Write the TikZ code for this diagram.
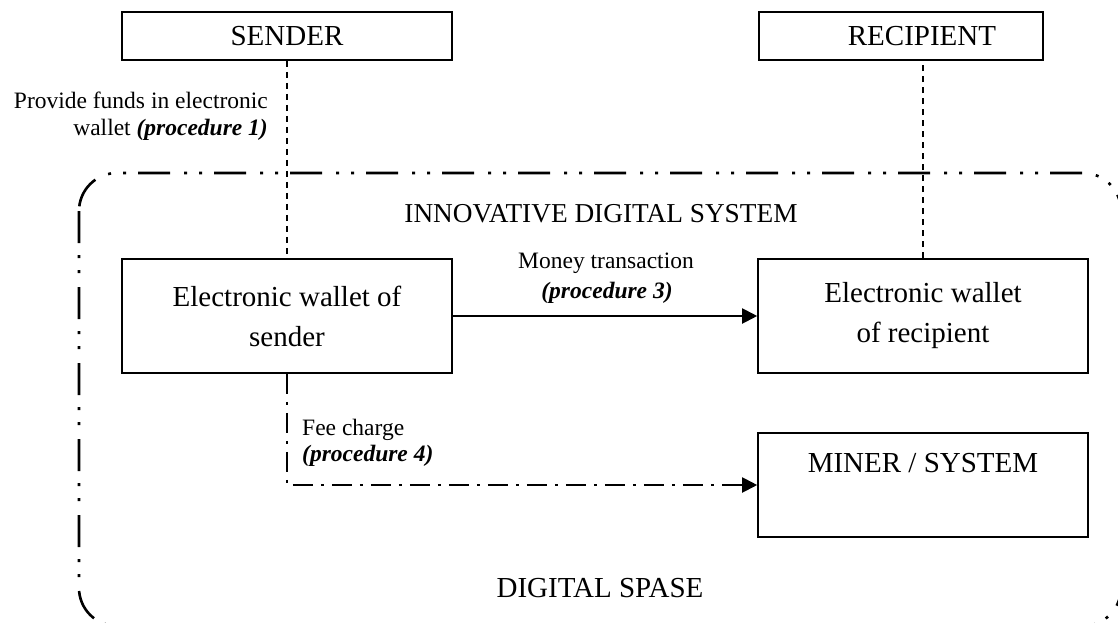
\documentclass[tikz,border=0pt]{standalone}
\usepackage{fontspec}
\setmainfont{Liberation Serif}
\usetikzlibrary{arrows.meta}
\begin{document}
\begin{tikzpicture}[x=1pt,y=-1pt,
  box/.style={draw, line width=1.6pt, inner sep=0pt, align=center, font=\fontsize{29}{40}\selectfont},
  plain/.style={inner sep=0pt, font=\fontsize{29}{34}\selectfont},
  lbl/.style={inner sep=0pt, font=\fontsize{23.5}{30}\selectfont},
  thindash/.style={line width=1.2pt, dash pattern=on 6pt off 5pt},
  solidarrow/.style={line width=2pt, -{Triangle[length=15pt,width=15pt]}},
  feearrow/.style={line width=2pt, dash pattern=on 20pt off 8pt on 3pt off 8pt, -{Triangle[length=15pt,width=15pt]}},
  border/.style={line width=2.6pt, dash pattern=on 32pt off 12pt on 3pt off 12pt on 3pt off 14pt, rounded corners=38pt}
]
\useasboundingbox (0,0) rectangle (1118,623);

% outer digital space border
\begin{scope}
  \clip (0,0) rectangle (1118,623);
  \path[draw, border] (79,173) rectangle (1121,626);
\end{scope}

% boxes
\node[box, minimum width=330pt, minimum height=48pt] (sender) at (287,36) {SENDER};
\node[box, minimum width=284pt, minimum height=48pt] (recipient) at (901,36) {};
\node[plain] (recipienttext) at (922,36) {RECIPIENT};
\node[box, minimum width=330pt, minimum height=114pt] (ws) at (287,316) {Electronic wallet of\\sender};
\node[box, minimum width=330pt, minimum height=114pt] (wr) at (923,316) {Electronic wallet\\of recipient};
\node[box, minimum width=330pt, minimum height=104pt] (miner) at (923,485) {};
\node[plain] (minertext) at (923,463) {MINER / SYSTEM};

% titles
\node[plain, font=\fontsize{27.3}{32}\selectfont] (ids) at (601,214) {INNOVATIVE DIGITAL SYSTEM};
\node[plain] (ds) at (600,588) {DIGITAL SPASE};

% labels
\node[lbl, anchor=east] (prov1) at (268,100) {Provide funds in electronic};
\node[lbl, anchor=east] (prov2) at (268,130) {wallet \textbf{\textit{(procedure 1)}}};
\node[lbl] (money1) at (606,263) {Money transaction};
\node[lbl] (money2) at (607,293) {\textbf{\textit{(procedure 3)}}};
\node[lbl, anchor=west] (fee1) at (302,430) {Fee charge};
\node[lbl, anchor=west] (fee2) at (302,456) {\textbf{\textit{(procedure 4)}}};

% connectors
\draw[thindash] (sender.south) -- (ws.north);
\draw[thindash] (wr.north) -- (wr.north |- recipient.south);
\draw[solidarrow] (ws.east) -- (wr.west);
\draw[feearrow] (ws.south) |- (miner.west);
\end{tikzpicture}
\end{document}
